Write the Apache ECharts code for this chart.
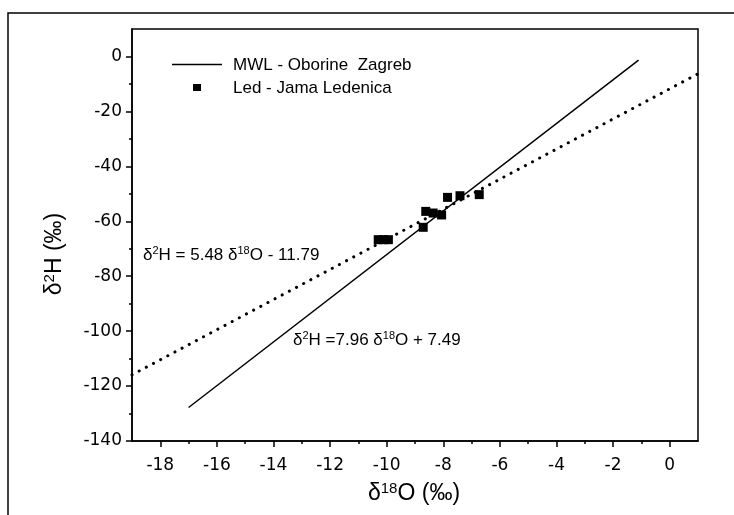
<!DOCTYPE html>
<html>
<head>
  <meta charset="UTF-8" />
  <title>d18O vs d2H</title>
  <script src="https://cdn.jsdelivr.net/npm/echarts@6/dist/echarts.min.js"></script>
  <style>
    html, body { margin: 0; height: 100%; background: #fff; }
    #main { width: 734px; height: 515px; }
  </style>
</head>
<body>
  <div id="main"></div>
  <script>
    // Led - Jama Ledenica
    const ledX = [-10.30, -10.12, -9.94, -8.71, -8.62, -8.36, -8.06, -7.85, -7.41, -6.73];
    const ledY = [-66.7, -66.7, -66.7, -62.2, -56.4, -57.0, -57.7, -51.3, -50.7, -50.3];

    // MWL - Oborine Zagreb (solid line end points)
    const mwlX = [-17.0, -1.1];
    const mwlY = [-127.8, -1.3];

    // local line through the ice samples (dotted)
    const ledLineX = [-19.0, 1.0];
    const ledLineY = [-115.9, -6.3];

    // tick labels
    const xTicks = [-18, -16, -14, -12, -10, -8, -6, -4, -2, 0];
    const yTicks = [-140, -120, -100, -80, -60, -40, -20, 0];

    const FONT = 'Liberation Sans';
    const chart = echarts.init(document.getElementById('main'));

    const zip = (xs, ys) => xs.map((x, i) => [x, ys[i]]);
    const eqRich = {
      b: { fontSize: 17, fontFamily: FONT, color: '#000' },
      s: { fontSize: 11, fontFamily: FONT, color: '#000', padding: [0, 0, 9, 0] }
    };
    const titleRich = {
      b: { fontSize: 23, fontFamily: FONT, color: '#000' },
      s: { fontSize: 15, fontFamily: FONT, color: '#000', padding: [0, 0, 11, 0] }
    };

    chart.setOption({
      backgroundColor: '#fff',
      animation: false,
      grid: {
        left: 132, right: 36, top: 29, bottom: 74,
        show: true, borderColor: '#000', borderWidth: 1.5, backgroundColor: 'transparent'
      },
      xAxis: {
        type: 'value',
        min: -19, max: 1,
        splitNumber: 10, minInterval: 2, maxInterval: 2,
        axisLine: { show: true, onZero: false, lineStyle: { color: '#000', width: 1.5 } },
        axisTick: { show: true, length: 6, customValues: xTicks, lineStyle: { color: '#000', width: 1.5 } },
        minorTick: { show: true, splitNumber: 2, length: 3, lineStyle: { color: '#000', width: 1.5 } },
        splitLine: { show: false },
        axisLabel: {
          color: '#000', fontSize: 17, fontFamily: 'DejaVu Sans', margin: 16,
          customValues: xTicks
        }
      },
      yAxis: {
        type: 'value',
        min: -140, max: 10,
        splitNumber: 7, minInterval: 20, maxInterval: 20,
        axisLine: { show: true, onZero: false, lineStyle: { color: '#000', width: 1.5 } },
        axisTick: { show: true, length: 6, customValues: yTicks, lineStyle: { color: '#000', width: 1.5 } },
        minorTick: { show: true, splitNumber: 2, length: 3, lineStyle: { color: '#000', width: 1.5 } },
        splitLine: { show: false },
        axisLabel: {
          color: '#000', fontSize: 17, fontFamily: 'DejaVu Sans', margin: 10,
          customValues: yTicks
        }
      },
      series: [
        {
          name: 'MWL - Oborine Zagreb',
          type: 'line',
          data: zip(mwlX, mwlY),
          showSymbol: false,
          symbol: 'none',
          lineStyle: { color: '#000', width: 1.5 }
        },
        {
          name: 'fit',
          type: 'line',
          data: zip(ledLineX, ledLineY),
          symbol: 'none',
          lineStyle: { color: '#000', width: 3, type: [0.1, 8], cap: 'round' }
        },
        {
          name: 'Led - Jama Ledenica',
          type: 'scatter',
          data: zip(ledX, ledY),
          symbol: 'rect',
          symbolSize: 9,
          itemStyle: { color: '#000', opacity: 1 }
        }
      ],
      graphic: [
        // outer frame
        { type: 'rect', shape: { x: 8, y: 13, width: 760, height: 560 },
          style: { fill: 'none', stroke: '#000', lineWidth: 1.5 }, silent: true },
        // legend
        { type: 'line', shape: { x1: 172, y1: 64.5, x2: 222, y2: 64.5 },
          style: { stroke: '#000', lineWidth: 1.3 } },
        { type: 'rect', shape: { x: 193, y: 84, width: 8, height: 7 },
          style: { fill: '#000' } },
        { type: 'text', x: 233, y: 65,
          style: { text: 'MWL - Oborine  Zagreb', font: '17px "' + FONT + '"', fill: '#000', verticalAlign: 'middle' } },
        { type: 'text', x: 233, y: 88,
          style: { text: 'Led - Jama Ledenica', font: '17px "' + FONT + '"', fill: '#000', verticalAlign: 'middle' } },
        // equations
        { type: 'text', x: 143, y: 255,
          style: { text: '{b|δ}{s|2}{b|H = 5.48 δ}{s|18}{b|O - 11.79}', rich: eqRich, verticalAlign: 'middle' } },
        { type: 'text', x: 293, y: 340,
          style: { text: '{b|δ}{s|2}{b|H =7.96 δ}{s|18}{b|O + 7.49}', rich: eqRich, verticalAlign: 'middle' } },
        // axis titles
        { type: 'text', x: 414, y: 494,
          style: { text: '{b|δ}{s|18}{b|O (‰)}', rich: titleRich, align: 'center', verticalAlign: 'middle' } },
        { type: 'text', x: 55, y: 254, rotation: Math.PI / 2,
          style: { text: '{b|δ}{s|2}{b|H (‰)}', rich: titleRich, align: 'center', verticalAlign: 'middle' } }
      ]
    });
  </script>
</body>
</html>
